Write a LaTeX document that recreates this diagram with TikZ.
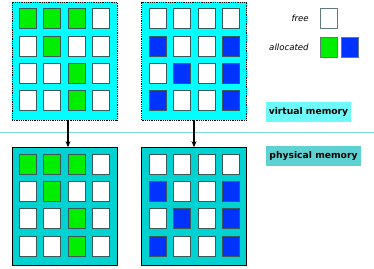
\documentclass[tikz,border=0pt]{standalone}
\usepackage{fontspec}
\setmainfont{DejaVu Sans}
\definecolor{vmfill}{HTML}{00FFFF}
\definecolor{pmfill}{HTML}{00D2D2}
\definecolor{vmlabel}{HTML}{6EFAFA}
\definecolor{pmlabel}{HTML}{5ED2D2}
\definecolor{pagegreen}{HTML}{00EE00}
\definecolor{pageblue}{HTML}{0033FF}
\definecolor{pageedge}{HTML}{3A5A5A}
\definecolor{splitline}{HTML}{7ADCDC}
\usetikzlibrary{arrows.meta}

\begin{document}
\begin{tikzpicture}[x=1pt, y=-1pt,
    membox/.style={draw, minimum width=105pt, minimum height=118pt, inner sep=0pt},
    sq/.style={draw=pageedge, line width=0.6pt, minimum width=17pt, minimum height=20pt, inner sep=0pt},
    sqw/.style={sq, fill=white},
    sqg/.style={sq, fill=pagegreen},
    sqb/.style={sq, fill=pageblue},
    tag/.style={inner sep=0pt, minimum height=20pt, font=\bfseries\fontsize{9.2}{10}\selectfont},
    keytext/.style={left=8pt, font=\itshape\fontsize{8.6}{9}\selectfont}]
    \useasboundingbox (0,0) rectangle (374,268);
    \draw[splitline, line width=0.8pt] (0,132) -- (374,132);
    % memory boxes
    \node[membox, fill=vmfill, densely dotted, line width=0.8pt] (vl) at (64.5,61) {};
    \node[membox, fill=vmfill, densely dotted, line width=0.8pt] (vr) at (194,61) {};
    \node[membox, fill=pmfill, line width=0.7pt] (pl) at (64.5,206.5) {};
    \node[membox, fill=pmfill, line width=0.7pt] (pr) at (194,206.5) {};
    % pages
    \foreach \c [count=\k from 0] in {g,g,g,w, w,g,w,w, w,w,g,w, w,w,g,w} {
      \pgfmathtruncatemacro\i{mod(\k,4)}
      \pgfmathtruncatemacro\j{div(\k,4)}
      \node[sq\c] (vl-\k) at (12+15.5+24.5*\i, 2+16.5+27.3*\j) {};
      \node[sq\c] (pl-\k) at (12+15.5+24.5*\i, 147.5+16.5+27.3*\j) {};
    }
    \foreach \c [count=\k from 0] in {w,w,w,w, b,w,w,b, w,b,w,b, b,w,w,b} {
      \pgfmathtruncatemacro\i{mod(\k,4)}
      \pgfmathtruncatemacro\j{div(\k,4)}
      \node[sq\c] (vr-\k) at (142+15.5+24.5*\i, 2+16.5+27.3*\j) {};
      \node[sq\c] (pr-\k) at (142+15.5+24.5*\i, 147.5+16.5+27.3*\j) {};
    }
    \draw[-{Stealth[length=6pt,width=5pt]}, line width=1.2pt] ([xshift=3.5pt]vl.south) -- ([xshift=3.5pt]pl.north);
    \draw[-{Stealth[length=6pt,width=5pt]}, line width=1.2pt] (vr.south) -- (pr.north);
    % legend
    \node[sqw, draw=pageedge!80] (kfree) at (329,18) {};
    \node[sqg, draw=pageedge!80] (kgreen) at (329,47) {};
    \node[sqb, draw=pageedge!80] (kblue) at (349.5,47) {};
    \node[keytext] at (kfree.west) {free};
    \node[keytext] at (kgreen.west) {allocated};
    \node[tag, fill=vmlabel, minimum width=85pt] (vtag) at (308.5,112) {virtual memory};
    \node[tag, fill=pmlabel, minimum width=95pt] (ptag) at (313.5,156) {physical memory};
  \end{tikzpicture}
\end{document}
